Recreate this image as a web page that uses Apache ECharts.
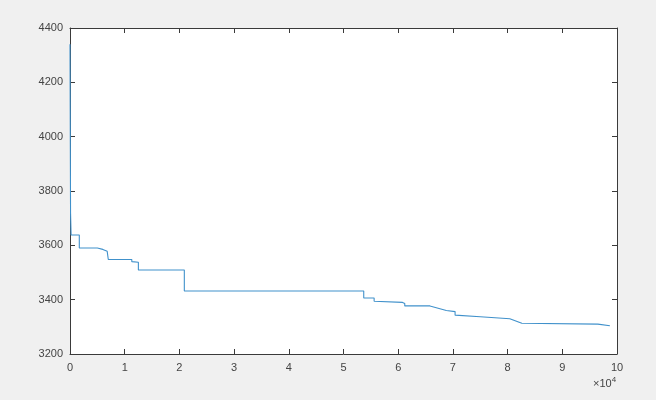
<!DOCTYPE html>
<html>
<head>
<meta charset="utf-8">
<script src="https://cdn.jsdelivr.net/npm/echarts@6/dist/echarts.min.js"></script>
<style>
html,body{margin:0;padding:0;background:#f0f0f0;}
#c{width:656px;height:400px;}
</style>
</head>
<body>
<div id="c"></div>
<script>
// iterations (raw x values)
var iterX = [0, 100, 200, 1700, 1700, 5000, 6000, 6800, 7000, 7000, 11300, 11300, 12500, 12500, 20900, 20900, 53700, 53700, 55600, 55600, 60800, 61200, 61200, 65800, 68800, 70400, 70400, 75000, 80400, 82600, 82600, 96500, 98700];
var costY = [4340, 3720, 3638, 3638, 3590, 3590, 3585, 3578, 3578, 3548, 3548, 3540, 3538, 3509, 3509, 3432, 3432, 3406, 3406, 3394, 3390, 3386, 3377, 3377, 3360, 3356, 3343, 3337, 3330, 3313, 3310, 3310, 3304];
var xTickLabels = ['0','1','2','3','4','5','6','7','8','9','10'];
var yTickLabels = ['3200','3400','3600','3800','4000','4200','4400'];

var pts = iterX.map(function(x, i){ return [x, costY[i]]; });
var axisCol = '#3a3a3a';
var labCol = '#444';
var font = 'Liberation Sans, Arial, sans-serif';

var chart = echarts.init(document.getElementById('c'), null, {renderer:'canvas'});
chart.setOption({
  backgroundColor: '#f0f0f0',
  animation: false,
  grid: {left: 70, right: 39, top: 28, bottom: 46, show: true, backgroundColor: '#ffffff', borderWidth: 0},
  xAxis: [{
    type: 'value', min: 0, max: 100000, interval: 10000, position: 'bottom',
    axisLine: {show: true, lineStyle: {color: axisCol, width: 1}},
    axisTick: {show: true, inside: true, length: 5, lineStyle: {color: axisCol}},
    axisLabel: {color: labCol, fontSize: 11, fontFamily: font, margin: 8,
      formatter: function(v){ return xTickLabels[Math.round(v/10000)]; }},
    splitLine: {show: false}
  },{
    type: 'value', min: 0, max: 100000, interval: 10000, position: 'top',
    axisLine: {show: true, onZero: false, lineStyle: {color: axisCol, width: 1}},
    axisTick: {show: true, inside: true, length: 5, lineStyle: {color: axisCol}},
    axisLabel: {show: false}, splitLine: {show: false}
  }],
  yAxis: [{
    type: 'value', min: 3200, max: 4400, interval: 200, position: 'left',
    axisLine: {show: true, lineStyle: {color: axisCol, width: 1}},
    axisTick: {show: true, inside: true, length: 5, lineStyle: {color: axisCol}},
    axisLabel: {color: labCol, fontSize: 11, fontFamily: font, margin: 7,
      formatter: function(v){ return yTickLabels[Math.round((v-3200)/200)]; }},
    splitLine: {show: false}
  },{
    type: 'value', min: 3200, max: 4400, interval: 200, position: 'right',
    axisLine: {show: true, onZero: false, lineStyle: {color: axisCol, width: 1}},
    axisTick: {show: true, inside: true, length: 5, lineStyle: {color: axisCol}},
    axisLabel: {show: false}, splitLine: {show: false}
  }],
  graphic: [{
    type: 'text', left: 593, top: 376,
    style: {
      text: '×10{s|4}', fill: labCol, fontSize: 11, fontFamily: font,
      rich: {s: {fontSize: 8, fill: labCol, fontFamily: font, padding: [0,0,7,0]}}
    }
  }],
  series: [{
    type: 'line', data: pts, xAxisIndex: 0, yAxisIndex: 0,
    showSymbol: false, symbol: 'none',
    lineStyle: {color: '#4091cb', width: 1.1},
    clip: true
  }]
});
</script>
</body>
</html>
